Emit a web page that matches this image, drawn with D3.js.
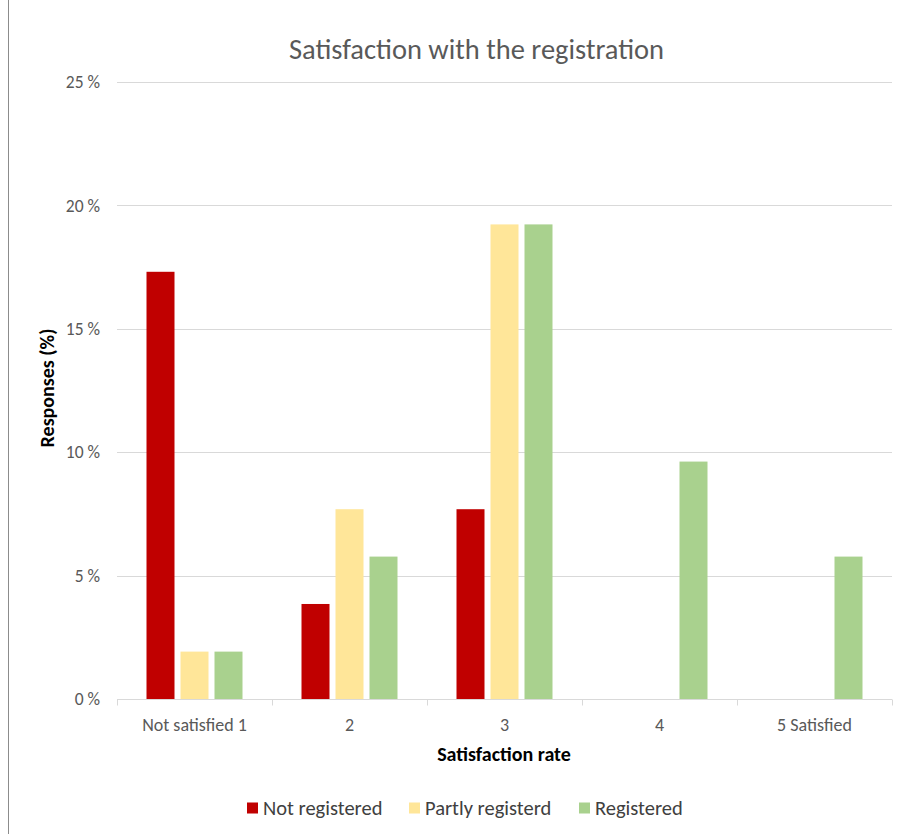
<!DOCTYPE html>
<html>
<head>
<meta charset="utf-8">
<script src="https://cdn.jsdelivr.net/npm/d3@7"></script>
<style>
  html, body { margin: 0; padding: 0; background: #fff; }
  svg { display: block; font-family: Carlito, Lato, "Open Sans", sans-serif; }
</style>
</head>
<body>
<svg id="chart" width="900" height="834"></svg>
<script>
// Satisfaction categories and response shares (%) per registration status
const categories = ["Not satisfied 1", "2", "3", "4", "5 Satisfied"];
const seriesNames = ["Not registered", "Partly registerd", "Registered"];
const notRegistered = [17.31, 3.85, 7.69, 0, 0];
const partlyRegistered = [1.92, 7.69, 19.23, 0, 0];
const registered = [1.92, 5.77, 19.23, 9.62, 5.77];
const yTicks = [0, 5, 10, 15, 20, 25];
const colors = ["#C00000", "#FFE699", "#A9D18E"];

const seriesValues = [notRegistered, partlyRegistered, registered];
const rows = categories.map((c, i) => ({
  category: c,
  values: seriesNames.map((s, j) => ({ series: s, value: seriesValues[j][i], color: colors[j] }))
}));

const svg = d3.select("#chart");
const plotLeft = 117, plotRight = 892, plotTop = 82, plotBottom = 699;

// left frame line
svg.append("line").attr("x1", 8.5).attr("x2", 8.5).attr("y1", 0).attr("y2", 834)
  .attr("stroke", "#8c8c8c").attr("stroke-width", 1);

const x = d3.scaleBand().domain(categories).range([plotLeft, plotRight]).paddingInner(0).paddingOuter(0);
const inner = d3.scaleBand().domain(seriesNames).range([0, 96]).paddingInner(3 - 96 / 34).paddingOuter(0);
const y = d3.scaleLinear().domain([0, 25]).range([plotBottom, plotTop]);

// gridlines
svg.append("g").selectAll("line").data(yTicks.filter(t => t > 0)).join("line")
  .attr("x1", plotLeft).attr("x2", plotRight)
  .attr("y1", d => Math.round(y(d)) + 0.5).attr("y2", d => Math.round(y(d)) + 0.5)
  .attr("stroke", "#d9d9d9").attr("stroke-width", 1);

// y tick labels
svg.append("g").selectAll("text").data(yTicks).join("text")
  .attr("x", 100).attr("y", d => y(d)).attr("dy", "0.35em")
  .attr("text-anchor", "end").attr("fill", "#595959").attr("font-size", 17.5)
  .text(d => d + " %");

// bars
const groupOffset = (x.bandwidth() - 96) / 2;
svg.append("g").selectAll("g").data(rows).join("g")
  .attr("transform", d => `translate(${x(d.category) + groupOffset},0)`)
  .selectAll("rect").data(d => d.values.filter(v => v.value > 0)).join("rect")
  .attr("x", d => inner(d.series))
  .attr("width", inner.bandwidth())
  .attr("y", d => y(d.value))
  .attr("height", d => y(0) - y(d.value))
  .attr("fill", d => d.color);

// x axis line and category separators
const xAxis = svg.append("g").attr("transform", `translate(0,${plotBottom + 0.5})`);
xAxis.append("line").attr("x1", plotLeft).attr("x2", plotRight).attr("stroke", "#d9d9d9");
xAxis.selectAll("line.tick").data(categories.map(c => x(c)).concat([plotRight])).join("line")
  .attr("class", "tick")
  .attr("x1", d => Math.round(d) + 0.5).attr("x2", d => Math.round(d) + 0.5)
  .attr("y1", 0).attr("y2", 6).attr("stroke", "#d9d9d9");
xAxis.selectAll("text").data(categories).join("text")
  .attr("x", d => x(d) + x.bandwidth() / 2).attr("y", 25).attr("dy", "0.35em")
  .attr("text-anchor", "middle").attr("fill", "#595959").attr("font-size", 18)
  .text(d => d);

// title
svg.append("text").attr("x", 476.5).attr("y", 49).attr("dy", "0.35em")
  .attr("text-anchor", "middle").attr("fill", "#595959").attr("font-size", 28.5)
  .text("Satisfaction with the registration");

// axis titles
svg.append("text").attr("transform", "translate(47,388) rotate(-90)")
  .attr("dy", "0.35em").attr("text-anchor", "middle").attr("font-weight", "bold")
  .attr("font-size", 20).attr("fill", "#000").text("Responses (%)");
svg.append("text").attr("x", 504).attr("y", 754).attr("dy", "0.35em")
  .attr("text-anchor", "middle").attr("font-weight", "bold")
  .attr("font-size", 20).attr("fill", "#000").text("Satisfaction rate");

// legend
const legendX = [247, 409, 579];
const legend = svg.append("g").selectAll("g").data(seriesNames).join("g")
  .attr("transform", (d, i) => `translate(${legendX[i]},808)`);
legend.append("rect").attr("x", 0).attr("y", -5.5).attr("width", 11).attr("height", 11)
  .attr("fill", (d, i) => colors[i]);
legend.append("text").attr("x", 16).attr("y", 0).attr("dy", "0.35em")
  .attr("font-size", 20.5).attr("fill", "#404040").text(d => d);
</script>
</body>
</html>
